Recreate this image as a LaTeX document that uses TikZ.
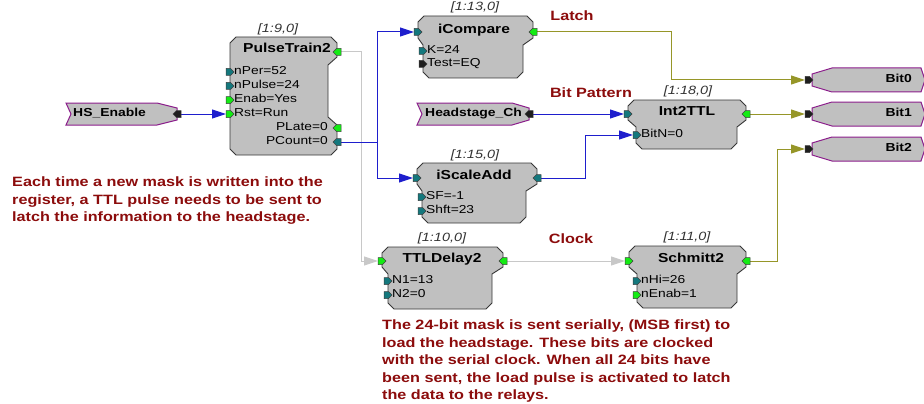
\documentclass[tikz,border=0pt]{standalone}
\usepackage{fontspec}
\setmainfont[FakeStretch=1.2]{Liberation Sans}
\usetikzlibrary{arrows.meta,calc}

\definecolor{blockfill}{RGB}{192,192,192}
\definecolor{blockedge}{RGB}{55,55,55}
\definecolor{ioedge}{RGB}{140,30,140}
\definecolor{pgreen}{RGB}{20,235,20}
\definecolor{pteal}{RGB}{20,120,125}
\definecolor{pblack}{RGB}{30,30,30}
\definecolor{wireblue}{RGB}{30,30,205}
\definecolor{wireolive}{RGB}{150,150,40}
\definecolor{wiregray}{RGB}{200,200,200}
\definecolor{notered}{RGB}{140,12,12}

\tikzset{
  x=1pt, y=-1pt,
  blk/.style={fill=blockfill, draw=blockedge, line width=0.9pt, line join=miter},
  iobox/.style={fill=blockfill, draw=ioedge, line width=1pt},
  portedge/.style={draw=black!75, line width=0.5pt},
  title/.style={font=\fontsize{13}{15}\selectfont\bfseries, inner sep=0pt, anchor=mid},
  param/.style={font=\fontsize{11.5}{13}\selectfont, inner sep=0pt, anchor=mid west},
  paramr/.style={font=\fontsize{11.5}{13}\selectfont, inner sep=0pt, anchor=mid east},
  blklabel/.style={font=\fontsize{12}{14}\selectfont\itshape, text=black!80, inner sep=0pt, anchor=mid},
  iotext/.style={font=\fontsize{11.6}{13}\selectfont\bfseries, inner sep=0pt},
  wlabel/.style={font=\fontsize{13.5}{16}\selectfont\bfseries, text=notered, inner sep=0pt, anchor=mid},
  note/.style={font=\fontsize{13.5}{17.5}\selectfont\bfseries, text=notered, inner sep=0pt, align=left, anchor=north west},
  arr/.style={-{Triangle[length=14pt,width=9pt]}, shorten >=4pt},
  wblue/.style={draw=wireblue, line width=1pt},
  wolive/.style={draw=wireolive, line width=1pt},
  wgray/.style={draw=wiregray, line width=1pt},
}

% block outline: title-row left/right, top, bottom, body left/right, notch start
\newcommand\rpblock[7]{%
  \draw[blk] ({#1+6},#3) -- ({#2-6},#3) -- (#2,{#3+6}) -- (#2,#7) -- (#6,{#7+7})
    -- (#6,{#4-6}) -- ({#6-6},#4) -- ({#5+6},#4) -- (#5,{#4-6}) -- (#5,{#7+7})
    -- (#1,#7) -- (#1,{#3+6}) -- cycle;}
% port glyphs: on a left edge (pointing right) and on a right edge (pointing left)
\newcommand\lport[2]{\draw[portedge, fill=#2, shift={(#1)}]
  (-4,-3.5) -- (0.5,-3.5) -- (4,0) -- (0.5,3.5) -- (-4,3.5) -- cycle;}
\newcommand\rport[2]{\draw[portedge, fill=#2, shift={(#1)}]
  (4,-3.5) -- (-0.5,-3.5) -- (-4,0) -- (-0.5,3.5) -- (4,3.5) -- cycle;}

\begin{document}
\begin{tikzpicture}
\useasboundingbox (0,0) rectangle (924,404);
\fill[white] (0,0) rectangle (924,404);

% ---- port positions ----
\coordinate (pt-out) at (337,52);
\coordinate (pt-nper) at (230,72);
\coordinate (pt-npulse) at (230,86);
\coordinate (pt-enab) at (230,100);
\coordinate (pt-rst) at (230,114);
\coordinate (pt-plate) at (337,128);
\coordinate (pt-pc) at (337,142);
\coordinate (hs-out) at (177,114);
\coordinate (ic-in) at (418,32);
\coordinate (ic-k) at (423,51);
\coordinate (ic-test) at (423,64);
\coordinate (ic-out) at (533,32);
\coordinate (sa-in) at (417,178);
\coordinate (sa-sf) at (422,197);
\coordinate (sa-shft) at (422,211);
\coordinate (sa-out) at (537,178);
\coordinate (hc-out) at (529,114);
\coordinate (tt-in) at (628,114);
\coordinate (tt-bitn) at (637,135);
\coordinate (tt-out) at (746,114);
\coordinate (td-in) at (382,261);
\coordinate (td-n1) at (388,281);
\coordinate (td-n2) at (388,295);
\coordinate (td-out) at (503,261);
\coordinate (sc-in) at (629,261);
\coordinate (sc-nhi) at (637,281);
\coordinate (sc-nenab) at (637,295);
\coordinate (sc-out) at (746,261);
\coordinate (b0-in) at (809,80);
\coordinate (b1-in) at (809,114);
\coordinate (b2-in) at (809,149);
\coordinate (split) at (377,142);

% ---- blocks ----
\draw[blk] (236,37) -- (331,37) -- (337,43) -- (337,57) -- (328,65) -- (328,117)
  -- (337,125) -- (337,149) -- (331,155) -- (236,155) -- (230,149) -- (230,43) -- cycle;
\rpblock{418}{533}{16}{78}{423}{523}{38}
\rpblock{417}{537}{163}{223}{422}{526}{184}
\rpblock{628}{746}{100}{149}{636}{737}{120}
\rpblock{382}{503}{247}{309}{388}{492}{267}
\rpblock{629}{746}{246}{308}{637}{737}{267}

% ---- input / output boxes ----
\draw[iobox] (66,103) -- (157,103) -- (177,108) -- (177,120) -- (157,125) -- (66,125) -- (71,114) -- cycle;
\draw[iobox] (417,103) -- (512,103) -- (529,108) -- (529,120) -- (512,125) -- (417,125) -- (422,114) -- cycle;
\foreach \c in {80,114,149}
  \draw[iobox] (832,\c-12) -- (921,\c-12) -- (925,\c) -- (921,\c+12) -- (832,\c+12) -- (812,\c+6) -- (812,\c-6) -- cycle;

% ---- block texts ----
\node[blklabel] (lbl-pt) at (278,30) {[1:9,0]};
\node[title] (ttl-pt) at (287,50) {PulseTrain2};
\node[param] (p-nper) at (234,72) {nPer=52};
\node[param] (p-npulse) at (234,86) {nPulse=24};
\node[param] (p-enab) at (234,100) {Enab=Yes};
\node[param] (p-rst) at (234,114) {Rst=Run};
\node[paramr] (p-plate) at (328,128) {PLate=0};
\node[paramr] (p-pc) at (328,142) {PCount=0};

\node[blklabel] (lbl-ic) at (475,8) {[1:13,0]};
\node[title] (ttl-ic) at (474,31) {iCompare};
\node[param] (p-k) at (427,51) {K=24};
\node[param] (p-test) at (427,64) {Test=EQ};

\node[blklabel] (lbl-sa) at (475,156) {[1:15,0]};
\node[title] (ttl-sa) at (474,177) {iScaleAdd};
\node[param] (p-sf) at (426,197) {SF=-1};
\node[param] (p-shft) at (426,211) {Shft=23};

\node[blklabel] (lbl-tt) at (688,92) {[1:18,0]};
\node[title] (ttl-tt) at (687,113) {Int2TTL};
\node[param] (p-bitn) at (641,135) {BitN=0};

\node[blklabel] (lbl-td) at (442,239) {[1:10,0]};
\node[title] (ttl-td) at (442,260) {TTLDelay2};
\node[param] (p-n1) at (392,281) {N1=13};
\node[param] (p-n2) at (392,295) {N2=0};

\node[blklabel] (lbl-sc) at (687,238) {[1:11,0]};
\node[title] (ttl-sc) at (691,260) {Schmitt2};
\node[param] (p-nhi) at (641,281) {nHi=26};
\node[param] (p-nenab) at (641,295) {nEnab=1};

\node[iotext, anchor=mid west] (io-hs) at (73,114) {HS\_Enable};
\node[iotext, anchor=mid west] (io-hc) at (425,114) {Headstage\_Ch};
\node[iotext, anchor=mid east] (io-b0) at (912,80) {Bit0};
\node[iotext, anchor=mid east] (io-b1) at (912,114) {Bit1};
\node[iotext, anchor=mid east] (io-b2) at (912,149) {Bit2};

% ---- wire labels and notes ----
\node[wlabel] (w-latch) at (572,18) {Latch};
\node[wlabel] (w-bits) at (591,95) {Bit Pattern};
\node[wlabel] (w-clock) at (571,241) {Clock};
\node[note] (note-latch) at (12,177) {Each time a new mask is written into the\\register, a TTL pulse needs to be sent to\\latch the information to the headstage.};
\node[note] (note-serial) at (382,320) {The 24-bit mask is sent serially, (MSB first) to\\load the headstage. These bits are clocked\\with the serial clock. When all 24 bits have\\been sent, the load pulse is activated to latch\\the data to the relays.};

% ---- connectors ----
\draw[wgray, arr] (pt-out) -- ++(24,0) |- (td-in);
\draw[wgray, arr] (td-out) -- (sc-in);
\draw[wblue, arr] (hs-out) -- (pt-rst);
\draw[wblue] (pt-pc) -- (split);
\draw[wblue, arr] (split) |- (ic-in);
\draw[wblue, arr] (split) |- (sa-in);
\draw[wblue, arr] (sa-out) -- ++(48,0) |- (tt-bitn);
\draw[wblue, arr] (hc-out) -- (tt-in);
\draw[wolive, arr] (ic-out) -- ++(138,0) |- (b0-in);
\draw[wolive, arr] (tt-out) -- (b1-in);
\draw[wolive, arr] (sc-out) -- ++(31,0) |- (b2-in);

% ---- ports ----
\rport{pt-out}{pgreen}
\lport{pt-nper}{pteal}
\lport{pt-npulse}{pteal}
\lport{pt-enab}{pgreen}
\lport{pt-rst}{pgreen}
\rport{pt-plate}{pgreen}
\rport{pt-pc}{pteal}
\lport{ic-in}{pteal}
\lport{ic-k}{pteal}
\lport{ic-test}{pblack}
\rport{ic-out}{pgreen}
\lport{sa-in}{pteal}
\lport{sa-sf}{pteal}
\lport{sa-shft}{pteal}
\rport{sa-out}{pteal}
\lport{tt-in}{pteal}
\lport{tt-bitn}{pteal}
\rport{tt-out}{pgreen}
\lport{td-in}{pgreen}
\lport{td-n1}{pteal}
\lport{td-n2}{pteal}
\rport{td-out}{pgreen}
\lport{sc-in}{pgreen}
\lport{sc-nhi}{pteal}
\lport{sc-nenab}{pgreen}
\rport{sc-out}{pgreen}
\rport{hs-out}{pblack}
\rport{hc-out}{pblack}
\lport{b0-in}{pblack}
\lport{b1-in}{pblack}
\lport{b2-in}{pblack}
\end{tikzpicture}
\end{document}
